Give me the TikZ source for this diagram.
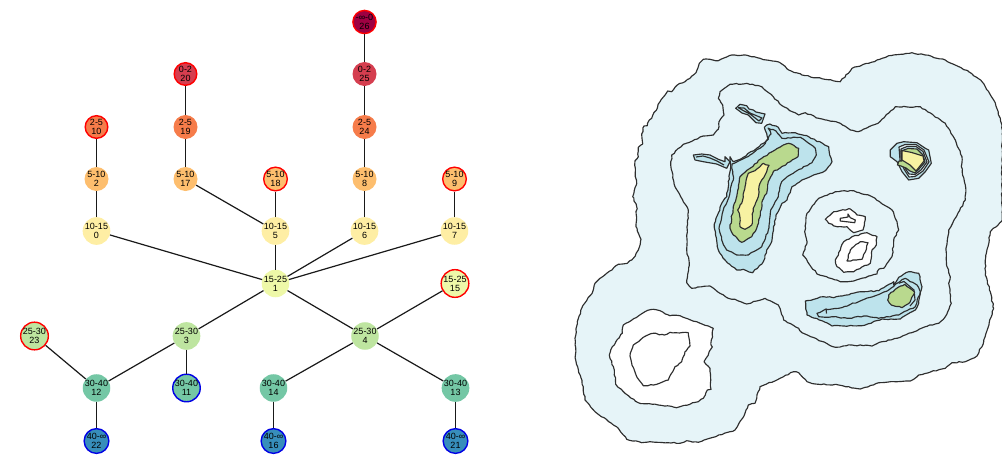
\documentclass[tikz,border=0pt]{standalone}
\usepackage{fontspec}
\setmainfont{Liberation Sans}
\usetikzlibrary{decorations.pathmorphing}
\definecolor{cA}{HTML}{9E0142}
\definecolor{cB}{HTML}{D53E4F}
\definecolor{cC}{HTML}{F67C4A}
\definecolor{cD}{HTML}{FDBE6E}
\definecolor{cE}{HTML}{FEEEA4}
\definecolor{cF}{HTML}{EEF8A8}
\definecolor{cG}{HTML}{BEE5A0}
\definecolor{cH}{HTML}{74C7A5}
\definecolor{cI}{HTML}{378EBB}
\definecolor{seaA}{HTML}{E6F4F8}
\definecolor{seaB}{HTML}{BDE3EC}
\definecolor{landA}{HTML}{B9D98E}
\definecolor{landB}{HTML}{F7F2A2}
\definecolor{ink}{HTML}{2E2E2E}
\tikzset{
  tn/.style={circle,minimum size=24pt,inner sep=0pt,align=center,font=\fontsize{9}{9}\selectfont,text=black},
  redring/.style={draw=red,line width=1.4pt,minimum size=22.6pt},
  bluering/.style={draw=blue!90!black,line width=1.4pt,minimum size=22.6pt},
  edge/.style={draw=black!90,line width=1.2pt},
  iso/.style={draw=ink,line width=1.15pt,line join=round,decorate,decoration={random steps,segment length=3pt,amplitude=.6pt}},
  isoplain/.style={draw=ink,line width=1.15pt,line join=round}
}
\begin{document}
\begin{tikzpicture}[x=1pt,y=-1pt]
\pgfmathsetseed{7}
\useasboundingbox (0,0) rectangle (1002,472);
% tree nodes
\node[tn,fill=cA,redring] (n26) at (364.5,22) {-∞-0\\26};
\node[tn,fill=cB] (n25) at (364.5,74) {0-2\\25};
\node[tn,fill=cC] (n24) at (364.5,127) {2-5\\24};
\node[tn,fill=cD] (n8) at (364.5,179) {5-10\\8};
\node[tn,fill=cE] (n6) at (364.5,231) {10-15\\6};
\node[tn,fill=cB,redring] (n20) at (185.5,74) {0-2\\20};
\node[tn,fill=cC] (n19) at (185.5,127) {2-5\\19};
\node[tn,fill=cD] (n17) at (185.5,179) {5-10\\17};
\node[tn,fill=cC,redring] (n10) at (96.5,127) {2-5\\10};
\node[tn,fill=cD] (n2) at (96.5,179) {5-10\\2};
\node[tn,fill=cE] (n0) at (96.5,231) {10-15\\0};
\node[tn,fill=cD,redring] (n18) at (275.5,179) {5-10\\18};
\node[tn,fill=cE] (n5) at (275.5,231) {10-15\\5};
\node[tn,fill=cD,redring] (n9) at (454.5,179) {5-10\\9};
\node[tn,fill=cE] (n7) at (454.5,231) {10-15\\7};
\node[tn,fill=cF] (n1) at (275.5,283.5) {15-25\\1};
\node[tn,fill=cF,redring] (n15) at (455,283.5) {15-25\\15};
\node[tn,fill=cG,redring] (n23) at (34.5,336) {25-30\\23};
\node[tn,fill=cG] (n3) at (186.5,336) {25-30\\3};
\node[tn,fill=cG] (n4) at (365,336) {25-30\\4};
\node[tn,fill=cH] (n12) at (96.5,388) {30-40\\12};
\node[tn,fill=cH,bluering] (n11) at (186.5,388) {30-40\\11};
\node[tn,fill=cH] (n14) at (273.5,388) {30-40\\14};
\node[tn,fill=cH] (n13) at (455.5,388) {30-40\\13};
\node[tn,fill=cI,bluering] (n22) at (96.5,441) {40-∞\\22};
\node[tn,fill=cI,bluering] (n16) at (273.5,441) {40-∞\\16};
\node[tn,fill=cI,bluering] (n21) at (455.5,441) {40-∞\\21};
% tree edges
\foreach \a/\b in {n0/n1,n5/n1,n6/n1,n7/n1,n1/n3,n1/n4,n0/n2,n2/n10,n5/n17,n5/n18,n17/n19,n19/n20,n6/n8,n8/n24,n24/n25,n25/n26,n7/n9,n4/n15,n4/n14,n4/n13,n3/n12,n3/n11,n12/n23,n12/n22,n14/n16,n13/n21}
  \draw[edge] (\a) -- (\b);
% outer contour
\path[fill=seaA,iso] (731.7,55) -- (748.3,55.7) -- (766.7,60) -- (780,62.7) -- (788.7,70) -- (802,75) -- (824.7,79.3) -- (840.3,81.7) -- (852,68.3) -- (868.7,63.3) -- (888.7,55.7) -- (912,52.7) -- (925.3,55) -- (945.3,60) -- (968.7,71.7) -- (982,81.7) -- (993.7,100) -- (1000.3,118.3) -- (1002,125) -- (1002,221) -- (990.3,231.7) -- (985.3,260) -- (985.3,275) -- (990.3,291.7) -- (993.7,308.3) -- (983.7,341.7) -- (977,356) -- (965.3,361.7) -- (952,362.7) -- (945.3,368.3) -- (918.7,375) -- (910.3,381) -- (897,381.7) -- (878.7,382.7) -- (860.3,389) -- (838.7,385) -- (815.3,384) -- (807,381.7) -- (798.7,372.7) -- (793.7,371.7) -- (780,378.3) -- (760,386.7) -- (755,403.3) -- (748.3,405) -- (745,413.3) -- (735,430) -- (730,431.7) -- (698.3,442.3) -- (686.7,440.7) -- (680,443.3) -- (650,441.7) -- (641.7,442.7) -- (626.7,439.3) -- (618.3,428.3) -- (595,411.7) -- (585,400) -- (583.3,386.7) -- (575.7,360) -- (575,338.3) -- (577.3,321.7) -- (581.7,308.3) -- (592.7,291.7) -- (595,283.3) -- (606.7,273.3) -- (618.3,264.3) -- (627.3,263.3) -- (633.3,258.3) -- (638.3,250) -- (641,239.3) -- (636,226.7) -- (636.7,206.7) -- (632.7,196.7) -- (636.7,183.3) -- (635.3,176.7) -- (635,160.7) -- (638.3,156.7) -- (638.3,147.3) -- (642.7,144) -- (641.7,134) -- (644,126) -- (647.3,125.7) -- (649.3,120) -- (651.7,118.3) -- (660,101.7) -- (667.7,91) -- (671.7,91.7) -- (677.3,85) -- (685,81.7) -- (696,72.7) -- (699.3,63.3) -- (703.3,59.3) -- (710,59.3) -- (718.3,60.7) -- cycle;
% second contour
\path[fill=seaA,iso] (730,84.3) -- (746.7,83.3) -- (761.7,86.7) -- (773.3,96.7) -- (782,105.7) -- (798.7,115) -- (805.3,112.7) -- (818.7,118.3) -- (840.3,123.3) -- (850.3,130) -- (858,131.7) -- (878,123.3) -- (895.3,106.7) -- (920.3,106.7) -- (945.3,123.3) -- (955.3,140) -- (962,156.7) -- (961.3,166.7) -- (965.3,185) -- (965.3,200) -- (948.7,230) -- (946,250) -- (947,266.7) -- (950.3,276.7) -- (948.7,283.3) -- (951.3,303.3) -- (945.3,316.7) -- (938.7,323.3) -- (925.3,326.7) -- (900.3,337.3) -- (882,341.7) -- (872,346) -- (852,345) -- (835.3,347.3) -- (802,332.7) -- (798.7,328.3) -- (783.7,320) -- (778.3,305) -- (765,298.3) -- (746.7,304) -- (735,299.3) -- (728.3,298.3) -- (710,286) -- (691.7,288.3) -- (686.7,282.7) -- (689.3,263.3) -- (686.7,250) -- (687.3,230) -- (688.3,210) -- (675,186.7) -- (670.7,165) -- (671.7,155) -- (683.3,144.3) -- (703.3,136) -- (713.3,135) -- (718.3,129.3) -- (719,121.7) -- (724,115) -- (722.7,105) -- (718.3,98.3) -- (720,91.7) -- cycle;
% lower-left hollow
\path[fill=white,iso] (645,311.7) -- (653.3,309.3) -- (660,310.7) -- (670,315.7) -- (680,315.7) -- (696.7,321.7) -- (713.3,328.3) -- (711,345) -- (712.3,347) -- (704,361.7) -- (710,368.3) -- (711,389.3) -- (707.3,390) -- (703.3,398.3) -- (698.3,401.7) -- (676.7,407.7) -- (658.3,405) -- (638.3,402.7) -- (625,393.3) -- (615.7,384.3) -- (614.3,370) -- (609.3,355) -- (612.3,346.7) -- (622.3,333.3) -- (623.3,325) -- cycle;
\path[iso] (688.3,332.7) -- (690,346) -- (685,351.7) -- (681.7,361.7) -- (675,366.7) -- (668.3,380) -- (656.7,384.3) -- (643.3,385.7) -- (636.7,376.7) -- (631.7,363.3) -- (630,356) -- (633.3,345) -- (643.3,337.3) -- (653.3,333.3) -- (664.3,335) -- (670,332.3) -- cycle;
% centre contour and hollows
\path[iso] (835.3,191.7) -- (853.7,190.7) -- (872,196.7) -- (885.3,205.7) -- (892,210) -- (897,221.7) -- (898.7,230) -- (893.7,240) -- (892,256.7) -- (883.7,268.3) -- (878.7,269.3) -- (877,274) -- (853.7,281) -- (840.3,281.7) -- (817,274) -- (802.7,255) -- (807,241.7) -- (804.7,231.7) -- (807,213.3) -- (818.7,198.3) -- cycle;
\path[fill=white,iso] (825.3,219.3) -- (833.7,211.7) -- (850.3,209) -- (857,215) -- (865.3,216.7) -- (863,230) -- (853.7,232.7) -- (847,226.7) -- (837,226.7) -- (828.7,223.3) -- cycle;
\path[isoplain] (840.3,218.3) -- (848,217) -- (848,214) -- (850.3,217.7) -- (855.3,220) -- (854.7,222.7) -- (840.3,221) -- cycle;
\path[fill=white,iso] (843.7,241.7) -- (852,236.7) -- (867,232.7) -- (877,236.7) -- (876.3,245) -- (872,250) -- (870.3,263.3) -- (853.7,271.7) -- (843.7,272.3) -- (837,266.7) -- (835.3,260) -- (840.3,250) -- cycle;
\path[iso] (853.7,246.7) -- (860.3,241.7) -- (868,242.7) -- (865.3,252) -- (862,259.3) -- (847,261) -- (850.3,250) -- cycle;
% large island: islets
\path[fill=seaB,isoplain] (735.7,108.3) -- (740,104.3) -- (746.7,105.7) -- (749,109) -- (753.3,110) -- (756,112) -- (765,114) -- (761.7,123.3) -- (756,122.7) -- (748.3,115) -- (742,113) -- cycle;
\path[isoplain] (738.3,107.7) -- (744,108) -- (750,113) -- (762,118) -- (759,121) -- (750,114) -- (744,111) -- cycle;
\path[fill=seaB,isoplain] (693.3,155) -- (701.7,154) -- (710,155) -- (718.3,159.3) -- (725,161.7) -- (725,156.7) -- (730,161.7) -- (726.7,168.3) -- (716.7,164) -- (703.3,161.7) -- (695,160) -- cycle;
\path[isoplain] (696,157) -- (703,156) -- (710,158) -- (717,161) -- (724,165);
% large island
\path[fill=seaB,iso] (766.7,125) -- (770,124) -- (778.3,127.3) -- (782,133.3) -- (795.3,132.7) -- (808.7,136.7) -- (828.7,146.7) -- (829.7,155) -- (832,161.7) -- (825.3,170.7) -- (802,180) -- (792,186.7) -- (787,200) -- (782,203.3) -- (776,215) -- (771.7,241.7) -- (766.7,250) -- (763.3,261.7) -- (752.7,272.7) -- (743.3,269.3) -- (736.7,270) -- (725,260) -- (718.3,250) -- (714.3,224) -- (721.7,203.3) -- (726.7,196.7) -- (730.7,166.7) -- (730,156.7) -- (733.3,161.7) -- (743.3,157.3) -- (756.7,148.3) -- (768.3,139.3) -- (764.3,127.3) -- cycle;
\path[iso] (732,164) -- (750,155) -- (763,146) -- (771,134) -- (768,128) -- (776,131) -- (782,138.3) -- (800.3,137.3) -- (815.3,148.3) -- (816.3,155) -- (812,162.7) -- (795.3,171.7) -- (790,175) -- (781.7,181.7) -- (778.3,196.7) -- (770.7,210) -- (768.3,230) -- (761.7,246.7) -- (748.3,255) -- (736.7,255) -- (726.7,250) -- (721.7,240) -- (719,228.3) -- (723.3,210) -- (726.7,203) -- (733.3,180) -- cycle;
\path[fill=landA,iso] (783.3,145) -- (788.7,143.3) -- (798.7,148.3) -- (798,156.7) -- (790.3,161.7) -- (773.3,171.7) -- (768.3,181.7) -- (766.7,193.3) -- (762.7,200) -- (760,216.7) -- (756.7,228.3) -- (751.7,236.7) -- (741.7,242.3) -- (733.3,235) -- (730,228.3) -- (733.3,206.7) -- (736.7,196.7) -- (740,176.7) -- (750,168.3) -- (761.7,158.3) -- (775,150) -- cycle;
\path[fill=landB,iso] (763.3,163.3) -- (769,165.3) -- (766.7,171.7) -- (760,183.3) -- (758.3,196.7) -- (753.3,208.3) -- (751.7,225) -- (745,229.3) -- (740,226.7) -- (739.3,213.3) -- (737.7,210) -- (741.7,203.3) -- (745,186.7) -- (748.3,173.3) -- (755,170.7) -- cycle;
% right small island
\path[fill=seaB,isoplain] (890.3,150) -- (897,143.3) -- (903.7,141.7) -- (917,142.7) -- (925.3,148.3) -- (928.7,150) -- (931.3,163.3) -- (925.3,171.7) -- (918.7,178.3) -- (908.7,180) -- (902,171.7) -- (897,161.7) -- (890.3,156.7) -- cycle;
\path[fill=seaA,isoplain] (899,147) -- (905,144.5) -- (916,144.5) -- (924,150) -- (929,162) -- (923,171) -- (915,176.5) -- (909,177) -- (904,169) -- (900,160) -- cycle;
\path[fill=seaB,isoplain] (901,149) -- (907,146.5) -- (916,146.5) -- (923,151.5) -- (927,162) -- (921,170) -- (915,174.5) -- (909,174) -- (905,168) -- (901,158) -- cycle;
\path[fill=landA,isoplain] (901,151) -- (908,148.5) -- (917,149) -- (923,155) -- (925,162) -- (919,169) -- (915,173) -- (910,171) -- (906,168) -- (901,166) -- (897.5,165) -- (899,161) -- (902,161) -- cycle;
\path[fill=landB,isoplain] (902,150.5) -- (911.7,152.5) -- (923,156) -- (924,161) -- (916,171) -- (910,165) -- (902,160) -- cycle;
% lower island
\path[fill=seaB,iso] (805.3,301) -- (823.7,296.7) -- (833.7,297.7) -- (862,291.7) -- (878.7,290.7) -- (893.7,281.7) -- (893.7,285) -- (898.7,277.3) -- (908.7,271.7) -- (918.7,273.3) -- (922,286.7) -- (918.7,303.3) -- (915.3,310) -- (900.3,319) -- (882,319) -- (862,325.7) -- (832,326) -- (825.3,322.3) -- (807,315) -- cycle;
\path[iso] (817,313.3) -- (825.3,309.3) -- (838.7,308.3) -- (858.7,301.7) -- (888.7,290) -- (897,283.3) -- (905.3,278.3) -- (917,285) -- (920.3,291.7) -- (915.3,306.7) -- (898.7,315) -- (878.7,318.3) -- (863.7,316) -- (850.3,318.3) -- (832,316.7) -- (818.7,316.7) -- cycle;
\path[isoplain] (898.7,283.3) -- (904,281.5) -- (914,290) -- (915,300) -- (910,306);
\path[isoplain] (826,308.5) -- (826.5,313.5);
\path[fill=landA,iso] (888.7,295) -- (895.3,289.3) -- (904.7,284.3) -- (914.7,292.3) -- (910.3,301.7) -- (902,307.7) -- (891.3,305) -- (887.7,300) -- cycle;
\end{tikzpicture}
\end{document}
